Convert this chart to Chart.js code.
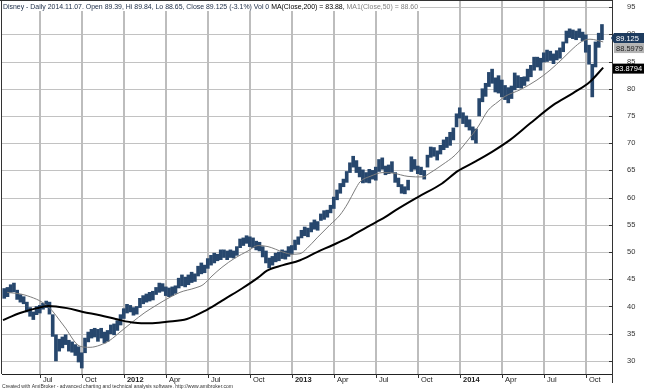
<!DOCTYPE html>
<html>
<head>
<meta charset="utf-8">
<script src="https://cdn.jsdelivr.net/npm/chart.js@4.4.1/dist/chart.umd.min.js"></script>
<style>
  html, body { margin: 0; padding: 0; background: #fff; }
  #wrap { width: 645px; height: 390px; }
</style>
</head>
<body>
<div id="wrap"><canvas id="chart" width="645" height="390"></canvas></div>
<script>
// Disney daily, shown as weekly high/low ranges. x unit = months since Jan 2011
const firstWeek = 3.45;          // week of 14 Apr 2011
const weekLen = 12 / 52;

const weekLow = [
  41.5, 41.8, 42.6, 42.7, 41.3, 40.8, 40.5, 39.0, 38.2, 37.6, 38.5, 38.8, 39.5, 39.8, 38.6, 34.5,
  30.0, 31.8, 32.4, 33.0, 31.8, 31.6, 31.0, 29.8, 28.7, 31.5, 33.5, 34.2, 34.4, 33.6, 34.2, 33.3,
  33.6, 35.0, 34.8, 35.6, 36.6, 37.8, 38.8, 39.0, 38.4, 38.6, 39.8, 40.5, 40.8, 41.0, 41.2, 42.2,
  42.6, 42.8, 42.0, 41.8, 42.0, 42.4, 43.4, 43.8, 43.6, 44.0, 44.4, 44.6, 45.6, 46.0, 46.2, 47.0,
  47.6, 48.0, 48.4, 48.6, 49.0, 48.6, 49.0, 48.9, 49.4, 50.8, 51.2, 51.6, 51.0, 50.8, 50.4, 50.2,
  49.1, 48.0, 47.1, 47.6, 48.2, 48.4, 48.8, 48.7, 49.2, 49.6, 50.4, 51.4, 52.6, 53.0, 52.8, 53.7,
  54.2, 54.0, 55.8, 56.0, 56.4, 57.2, 58.0, 59.6, 60.8, 62.0, 62.8, 64.6, 65.6, 64.6, 63.8, 62.7,
  62.8, 62.7, 63.4, 63.2, 64.8, 65.2, 64.2, 64.4, 64.6, 62.8, 62.0, 60.8, 60.7, 61.4, 64.8, 65.2,
  64.4, 64.2, 63.4, 65.6, 67.4, 67.6, 66.9, 68.0, 68.8, 69.2, 69.6, 70.6, 73.0, 74.6, 73.6, 73.0,
  72.4, 70.6, 70.0, 75.0, 77.6, 78.6, 80.4, 81.0, 79.4, 79.2, 78.5, 78.0, 77.4, 78.2, 79.8, 80.2,
  80.1, 80.6, 81.4, 82.2, 83.4, 84.0, 83.4, 84.9, 85.0, 85.2, 84.6, 85.3, 85.6, 86.8, 88.4, 89.4,
  89.2, 89.0, 89.4, 88.8, 86.7, 84.5, 78.5, 84.0, 87.6, 89.0
];
const weekHigh = [
  43.3, 43.5, 44.0, 44.3, 43.0, 42.2, 41.8, 40.8, 39.8, 39.0, 40.0, 40.2, 40.6, 41.0, 40.8, 38.5,
  34.8, 34.0, 34.4, 34.8, 33.8, 33.5, 33.0, 32.6, 31.5, 34.2, 35.3, 35.8, 36.0, 35.8, 36.0, 35.3,
  35.6, 36.6, 36.8, 37.4, 38.5, 39.6, 40.4, 40.2, 39.8, 40.0, 41.5, 42.0, 42.3, 42.6, 42.8, 43.5,
  44.3, 44.2, 43.6, 43.4, 43.6, 43.8, 45.2, 45.8, 45.4, 45.8, 46.3, 46.0, 47.4, 48.0, 47.6, 48.8,
  49.4, 49.8, 49.6, 50.4, 50.4, 50.2, 50.4, 50.2, 51.0, 52.4, 52.6, 53.0, 52.8, 52.6, 52.0, 51.8,
  51.0, 50.2, 48.9, 49.2, 49.8, 50.0, 50.4, 50.2, 51.0, 51.2, 52.2, 52.8, 54.0, 54.6, 54.4, 55.4,
  55.9, 55.6, 57.0, 57.6, 57.7, 58.6, 60.1, 61.4, 62.6, 63.4, 64.8, 66.4, 67.6, 66.8, 65.6, 65.1,
  64.6, 65.2, 65.0, 65.6, 67.0, 67.3, 65.8, 66.0, 66.6, 64.6, 63.6, 62.4, 62.0, 63.2, 67.5, 67.0,
  65.8, 65.6, 65.0, 67.8, 69.3, 69.2, 68.6, 69.6, 70.6, 71.1, 72.0, 72.8, 75.4, 76.5, 75.6, 75.0,
  74.3, 73.0, 72.6, 78.2, 80.0, 81.0, 83.0, 83.6, 82.0, 82.4, 81.6, 80.6, 80.2, 80.5, 82.9, 82.4,
  82.1, 82.2, 83.6, 84.3, 85.8, 85.8, 85.6, 86.6, 87.1, 86.9, 86.4, 87.0, 87.5, 88.6, 90.6, 91.0,
  90.8, 90.6, 91.0, 90.4, 89.9, 88.0, 84.5, 88.6, 90.2, 91.8
];

// MA1(Close,50), thin grey line
const ma50Month = [
  3.65, 4.93, 6.58, 7.72, 8.86, 9.58, 10.29, 11.0, 11.72, 12.58, 13.5, 14.36, 15.08, 16.0, 17.08,
  17.65, 18.29, 19.0, 19.93, 20.86, 21.58, 22.29, 23.36, 24.0, 24.58, 25.08, 25.79, 26.72, 27.43,
  28.0, 28.5, 28.86, 29.58, 30.5, 31.22, 32.29, 33.36, 33.72, 34.72, 35.65, 36.58, 37.29, 38.0,
  38.72, 39.22, 40.29, 41.5, 42.43, 43.36, 44.08, 44.72, 45.29, 46.23
];
const ma50 = [
  42.6, 42.1, 40.0, 36.4, 32.7, 32.5, 32.9, 33.8, 35.3, 37.1, 38.9, 40.3, 41.4, 42.6, 43.4,
  44.0, 45.6, 47.2, 48.9, 50.2, 51.2, 51.0, 50.0, 49.6, 49.7, 50.7, 52.6, 55.0, 56.8,
  59.0, 61.4, 62.9, 63.9, 64.6, 64.5, 63.9, 63.8, 64.3, 66.0, 67.8, 70.6, 73.0, 76.0,
  77.6, 78.6, 79.8, 81.6, 83.4, 85.6, 87.4, 88.7, 89.1, 88.6
];

// MA(Close,200), thick black line
const ma200Month = [
  3.36, 4.58, 5.79, 6.58, 7.93, 9.08, 10.29, 11.72, 12.79, 13.86, 15.08, 16.5, 17.79, 18.72,
  19.22, 20.43, 21.58, 22.22, 23.36, 24.58, 25.79, 26.93, 28.15, 29.36, 30.65, 31.36, 33.0,
  34.72, 35.86, 37.08, 38.29, 39.58, 41.0, 42.65, 44.08, 45.29, 46.23
];
const ma200 = [
  37.5, 38.8, 39.7, 40.1, 39.7, 39.0, 38.4, 37.5, 37.0, 36.9, 37.2, 37.7, 39.2, 40.6,
  41.4, 43.3, 45.3, 46.6, 47.6, 48.5, 50.0, 51.3, 52.8, 54.6, 56.4, 57.6, 60.1,
  62.6, 64.9, 66.6, 68.4, 70.6, 73.6, 77.0, 79.2, 81.3, 83.88
];

const quarterMonths = [6, 9, 12, 15, 18, 21, 24, 27, 30, 33, 36, 39, 42, 45];
const quarterLabels = ["Jul", "Oct", "2012", "Apr", "Jul", "Oct", "2013", "Apr", "Jul", "Oct", "2014", "Apr", "Jul", "Oct"];
const priceTicks = [30, 35, 40, 45, 50, 55, 60, 65, 70, 75, 80, 85, 90, 95];

const lastClose = 89.125;
const lastMa50 = 88.5979;
const lastMa200 = 83.8794;

const titleMain = "Disney - Daily 2014.11.07. Open 89.39, Hi 89.84, Lo 88.65, Close 89.125 (-3.1%) Vol 0 ";
const titleMa200 = "MA(Close,200) = 83.88, ";
const titleMa50 = "MA1(Close,50) = 88.60";
const footer = "Created with AmiBroker - advanced charting and technical analysis software. http://www.amibroker.com";

const FONT = '"Liberation Sans", Arial, sans-serif';
const NAVY = "#1e3b5e";

function squeezeText(ctx, text, x, y, width) {
  const w = ctx.measureText(text).width;
  ctx.save();
  ctx.translate(x, y);
  ctx.scale(Math.min(1, width / w), 1);
  ctx.fillText(text, 0, 0);
  ctx.restore();
}

function valueTag(ctx, left, yc, text, bg, fg, arrow) {
  ctx.fillStyle = bg;
  ctx.beginPath();
  if (arrow) {
    ctx.moveTo(left - 3, yc);
    ctx.lineTo(left, yc - 5);
  } else {
    ctx.moveTo(left, yc - 5);
  }
  ctx.lineTo(644, yc - 5);
  ctx.lineTo(644, yc + 5);
  ctx.lineTo(left, yc + 5);
  ctx.closePath();
  ctx.fill();
  ctx.fillStyle = fg;
  ctx.font = "7.5px " + FONT;
  ctx.textAlign = "left";
  ctx.textBaseline = "middle";
  squeezeText(ctx, text, left + 2, yc + 0.5, 644 - left - 3);
}

const amiDecor = {
  id: "amiDecor",
  beforeDraw(chart) {
    const { ctx, width, height } = chart;
    ctx.save();
    ctx.fillStyle = "#fff";
    ctx.fillRect(0, 0, width, height);
    ctx.restore();
  },
  beforeDatasetsDraw(chart) {
    // AmiBroker grid: horizontals at price ticks, verticals at quarter starts
    const ctx = chart.ctx;
    const a = chart.chartArea;
    const xs = chart.scales.x, ys = chart.scales.y;
    ctx.save();
    ctx.lineWidth = 1;
    ctx.strokeStyle = "#c2c2c2";
    ctx.beginPath();
    priceTicks.forEach(v => {
      const py = Math.round(ys.getPixelForValue(v)) + 0.5;
      ctx.moveTo(a.left, py);
      ctx.lineTo(a.right, py);
    });
    ctx.stroke();
    ctx.lineWidth = 2;
    ctx.strokeStyle = "#bdbdbd";
    ctx.beginPath();
    quarterMonths.forEach(m => {
      const px = Math.round(xs.getPixelForValue(m));
      ctx.moveTo(px, a.top);
      ctx.lineTo(px, a.bottom);
    });
    ctx.stroke();
    ctx.restore();
  },
  afterDraw(chart) {
    const { ctx, chartArea: a, scales: { x, y } } = chart;
    ctx.save();

    // frame + small tick marks
    ctx.strokeStyle = "#333";
    ctx.lineWidth = 1;
    ctx.beginPath();
    ctx.moveTo(1.5, 0); ctx.lineTo(1.5, a.bottom);
    ctx.moveTo(0, 0.5); ctx.lineTo(a.right, 0.5);
    ctx.moveTo(a.right + 0.5, 0); ctx.lineTo(a.right + 0.5, a.bottom + 9);
    priceTicks.forEach(v => {
      const py = Math.round(y.getPixelForValue(v)) + 0.5;
      ctx.moveTo(a.right - 3, py); ctx.lineTo(a.right, py);
    });
    quarterMonths.forEach(m => {
      const px = Math.round(x.getPixelForValue(m)) + 0.5;
      ctx.moveTo(px, a.bottom); ctx.lineTo(px, a.bottom + 4);
    });
    ctx.stroke();

    // title line
    ctx.font = "7.5px " + FONT;
    ctx.textAlign = "left";
    ctx.textBaseline = "alphabetic";
    const full = titleMain + titleMa200 + titleMa50;
    const sx = 415 / ctx.measureText(full).width;
    ctx.fillStyle = "#fff";
    ctx.fillRect(2, 1, 418, 10);
    ctx.save();
    ctx.translate(3, 9);
    ctx.scale(sx, 1);
    let cx = 0;
    [[titleMain, "#1a2b46"], [titleMa200, "#000"], [titleMa50, "#808080"]].forEach(([t, c]) => {
      ctx.fillStyle = c;
      ctx.fillText(t, cx, 0);
      cx += ctx.measureText(t).width;
    });
    ctx.restore();

    // footer
    ctx.font = "6px " + FONT;
    ctx.fillStyle = "#333";
    ctx.textBaseline = "middle";
    squeezeText(ctx, footer, 2, 386.5, 231);

    // last value tags on the price axis
    const yClose = y.getPixelForValue(lastClose) - 1;
    valueTag(ctx, 614, yClose, lastClose.toFixed(3), NAVY, "#fff", true);
    valueTag(ctx, 614, yClose + 10, lastMa50.toFixed(4), "#b4b4b4", "#222", false);
    valueTag(ctx, 613, y.getPixelForValue(lastMa200) + 1, lastMa200.toFixed(4), "#000", "#fff", false);

    ctx.restore();
  }
};

new Chart(document.getElementById("chart"), {
  type: "bar",
  data: {
    datasets: [
      {
        type: "line",
        label: "MA(Close,200)",
        data: ma200Month.map((m, i) => ({ x: m, y: ma200[i] })),
        borderColor: "#000",
        borderWidth: 2,
        pointRadius: 0,
        tension: 0.4,
        cubicInterpolationMode: "monotone",
        order: 0,
      },
      {
        type: "line",
        label: "MA1(Close,50)",
        data: ma50Month.map((m, i) => ({ x: m, y: ma50[i] })),
        borderColor: "#7d7d7d",
        borderWidth: 1,
        pointRadius: 0,
        tension: 0.4,
        cubicInterpolationMode: "monotone",
        order: 0,
      },
      {
        label: "Disney",
        data: weekLow.map((lo, i) => ({ x: firstWeek + i * weekLen, y: [lo, weekHigh[i]] })),
        backgroundColor: "#27476d",
        borderWidth: 0,
        barThickness: 3,
        order: 1,
      },
    ]
  },
  options: {
    responsive: false,
    animation: false,
    devicePixelRatio: 1,
    layout: { padding: { left: 2, top: 0, right: 0, bottom: 0 }, autoPadding: false },
    plugins: { legend: { display: false }, tooltip: { enabled: false }, title: { display: false } },
    scales: {
      x: {
        type: "linear",
        min: 3.29, max: 46.86,
        offset: false,
        afterBuildTicks: s => { s.ticks = quarterMonths.map(v => ({ value: v })); },
        afterFit: s => { s.height = 16; s.paddingLeft = 0; s.paddingRight = 0; },
        grid: { display: false, drawTicks: false },
        border: { display: true, color: "#222", width: 1 },
        ticks: {
          autoSkip: false, maxRotation: 0, align: "start", labelOffset: 3, padding: 1,
          color: "#222",
          callback: (v, i) => quarterLabels[i],
          font: ctx => ({ size: 7.5, family: FONT, weight: /^\d{4}$/.test(quarterLabels[ctx.index]) ? "bold" : "normal" }),
        },
      },
      y: {
        position: "right",
        min: 27.6, max: 96.3,
        afterBuildTicks: s => { s.ticks = priceTicks.map(v => ({ value: v })); },
        afterFit: s => { s.width = 33; s.paddingTop = 0; s.paddingBottom = 0; },
        grid: { display: false, drawTicks: false },
        border: { display: true, color: "#222", width: 1 },
        ticks: { padding: 15, color: "#333", font: { size: 7.5, family: FONT } },
      },
    },
  },
  plugins: [amiDecor],
});
</script>
</body>
</html>
